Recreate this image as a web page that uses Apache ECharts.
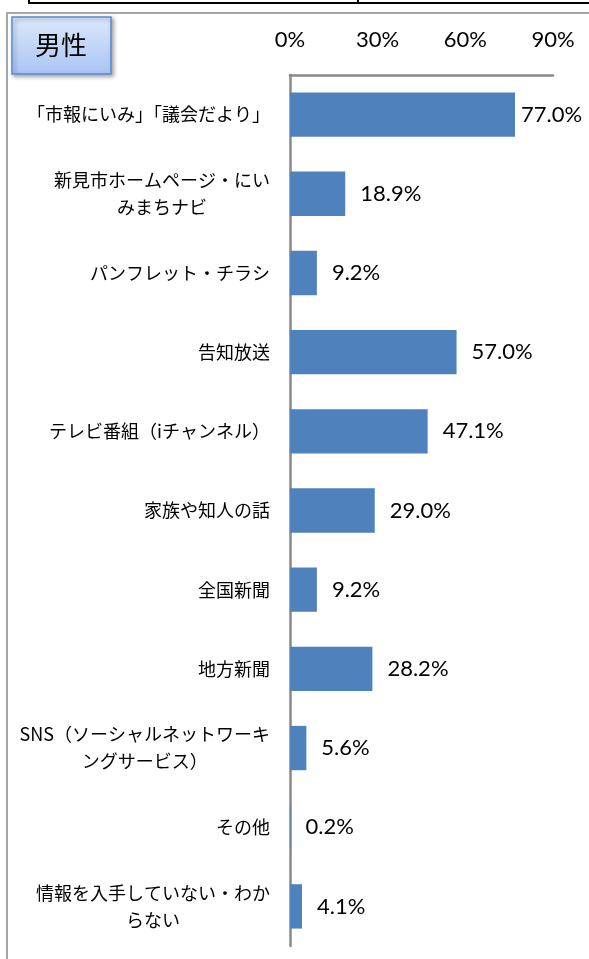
<!DOCTYPE html>
<html>
<head>
<meta charset="utf-8">
<script src="https://cdn.jsdelivr.net/npm/echarts@6/dist/echarts.min.js"></script>
<style>
  html, body { margin: 0; padding: 0; background: #fff; }
  #chart { width: 589px; height: 959px; }
</style>
</head>
<body>
<div id="chart"></div>
<script>
const categories = [
  "「市報にいみ」「議会だより」",
  "新見市ホームページ・にい\nみまちナビ",
  "パンフレット・チラシ",
  "告知放送",
  "テレビ番組（iチャンネル）",
  "家族や知人の話",
  "全国新聞",
  "地方新聞",
  "SNS（ソーシャルネットワーキ\nングサービス）",
  "その他",
  "情報を入手していない・わか\nらない",
];
const values = [77.0, 18.9, 9.2, 57.0, 47.1, 29.0, 9.2, 28.2, 5.6, 0.2, 4.1];
const tickValues = [0, 30, 60, 90];
const panelTitle = "男性";

const jp = '"Noto Sans CJK JP", sans-serif';
const num = 'Lato, "Noto Sans", sans-serif';

const chart = echarts.init(document.getElementById("chart"));
chart.setOption({
  animation: false,
  backgroundColor: "#fff",
  grid: { left: 290, right: 36, top: 75, bottom: 13 },
  xAxis: {
    type: "value",
    position: "top",
    min: 0,
    max: 90,
    interval: 30,
    axisLine: { show: true, lineStyle: { color: "#898989", width: 2.5 } },
    axisTick: { show: false },
    splitLine: { show: false },
    axisLabel: {
      margin: 24,
      color: "#000",
      fontFamily: num,
      fontSize: 22,
      formatter: (v) => (tickValues.includes(v) ? v + "%" : ""),
    },
  },
  yAxis: {
    type: "category",
    inverse: true,
    data: categories,
    axisLine: { show: true, lineStyle: { color: "#898989", width: 2.5 } },
    axisTick: { show: false },
    axisLabel: {
      margin: 20,
      align: "right",
      formatter: (v) => v.split("\n").map((s) => "{c|" + s + "}").join("\n"),
      rich: {
        c: { align: "center", color: "#000", fontFamily: jp, fontSize: 18, lineHeight: 27 },
      },
    },
  },
  series: [
    {
      type: "bar",
      barCategoryGap: "44%",
      data: values.map((v, i) => (i === 0 ? { value: v, label: { distance: 6 } } : v)),
      itemStyle: { color: "#4f81bd" },
      label: {
        show: true,
        position: "right",
        distance: 15,
        color: "#000",
        fontFamily: num,
        fontSize: 22,
        formatter: (p) => p.value.toFixed(1) + "%",
      },
    },
  ],
  graphic: [
    {
      type: "rect",
      shape: { x: 29, y: -20, width: 580, height: 23 },
      style: { fill: "none", stroke: "#000", lineWidth: 2 },
    },
    {
      type: "line",
      shape: { x1: 358, y1: 0, x2: 358, y2: 3 },
      style: { stroke: "#000", lineWidth: 2 },
    },
    {
      type: "polyline",
      shape: { points: [[7, 970], [7, 13], [600, 13]] },
      style: { fill: "none", stroke: "#a6a6a6", lineWidth: 2 },
    },
    {
      type: "rect",
      shape: { x: 12, y: 17, width: 99, height: 57 },
      style: {
        fill: new echarts.graphic.LinearGradient(0, 0, 0, 1, [
          { offset: 0, color: "#dde8fb" },
          { offset: 1, color: "#a8c5f4" },
        ]),
        stroke: "#5b8bd1",
        lineWidth: 1.5,
        shadowBlur: 4,
        shadowOffsetX: 2,
        shadowOffsetY: 2,
        shadowColor: "rgba(0,0,0,0.35)",
      },
    },
    {
      type: "text",
      style: {
        x: 61,
        y: 45,
        text: panelTitle,
        fill: "#000",
        font: '26px "Noto Sans CJK JP", sans-serif',
        textAlign: "center",
        textVerticalAlign: "middle",
      },
    },
  ],
});
</script>
</body>
</html>
